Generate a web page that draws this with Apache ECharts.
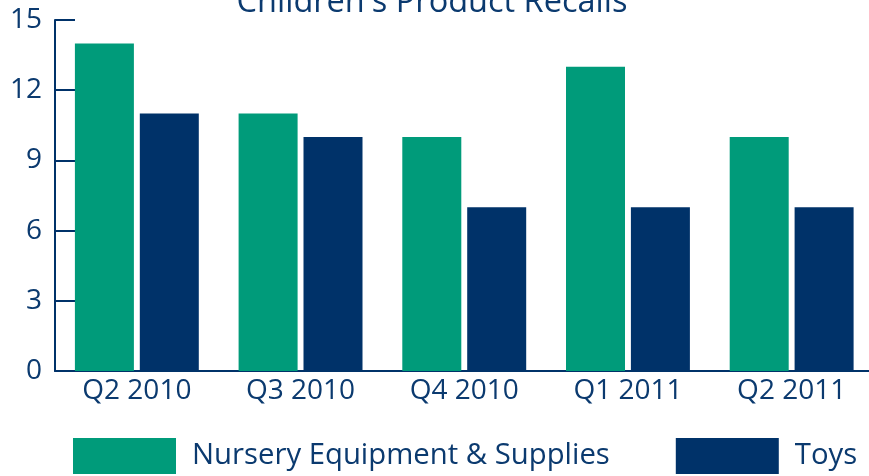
<!DOCTYPE html>
<html><head><meta charset="utf-8">
<script src="https://cdn.jsdelivr.net/npm/echarts@6/dist/echarts.min.js"></script>
<style>html,body{margin:0;padding:0;background:#fff}#c{width:869px;height:476px}</style>
</head><body><div id="c"></div>
<script>
const categories = ["Q2 2010", "Q3 2010", "Q4 2010", "Q1 2011", "Q2 2011"];
const nursery = [14, 11, 10, 13, 10];
const toys = [11, 10, 7, 7, 7];
const yTicks = [0, 3, 6, 9, 12, 15];

const GREEN = '#009b7a';
const NAVY = '#003269';
const TEXT = '#0b3a6f';
const FONT = '"Open Sans", sans-serif';

const chart = echarts.init(document.getElementById('c'), null, {renderer: 'canvas'});
chart.setOption({
  animation: false,
  textStyle: {fontFamily: FONT},
  title: {
    text: "Children's Product Recalls",
    left: 427, textAlign: 'center', top: -19,
    textStyle: {color: TEXT, fontSize: 32.5, fontWeight: 'normal', fontFamily: FONT}
  },
  legend: {
    left: 73, top: 438, padding: 0,
    itemWidth: 103, itemHeight: 36, itemGap: 66,
    icon: 'rect',
    textStyle: {color: TEXT, fontSize: 29.3, fontFamily: FONT, padding: [6, 0, 0, 11]},
    data: ['Nursery Equipment & Supplies', 'Toys']
  },
  grid: {left: 55, top: 20, right: -4.5, bottom: 105, containLabel: false, outerBoundsMode: 'none'},
  xAxis: {
    type: 'category', data: categories,
    axisLine: {lineStyle: {color: NAVY, width: 2}},
    axisTick: {inside: true, length: 9, lineStyle: {color: NAVY, width: 2}},
    axisLabel: {color: TEXT, fontSize: 28, fontFamily: FONT, margin: 6}
  },
  yAxis: {
    type: 'value', min: yTicks[0], max: yTicks[yTicks.length - 1], interval: yTicks[1] - yTicks[0],
    axisLine: {show: true, lineStyle: {color: NAVY, width: 2}},
    axisTick: {show: true, inside: true, length: 20, lineStyle: {color: NAVY, width: 2}},
    splitLine: {show: false},
    axisLabel: {color: TEXT, fontSize: 28, fontFamily: FONT, margin: 13}
  },
  series: [
    {name: 'Nursery Equipment & Supplies', type: 'bar', data: nursery, barWidth: 59, barGap: '10%', itemStyle: {color: GREEN}},
    {name: 'Toys', type: 'bar', data: toys, barWidth: 59, itemStyle: {color: NAVY}}
  ]
});
</script></body></html>
